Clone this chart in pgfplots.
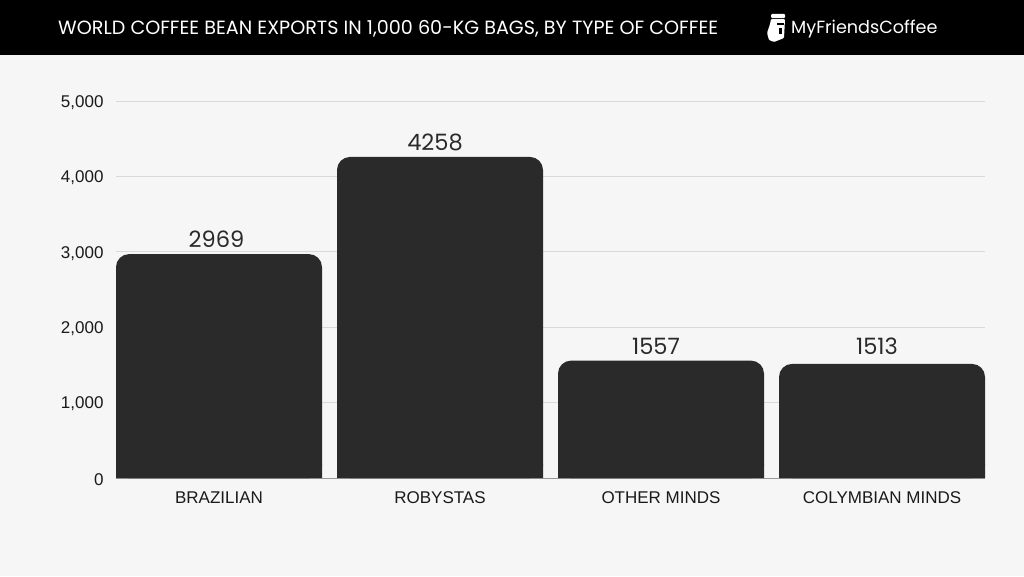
\documentclass[border=0pt]{standalone}
\usepackage{pgfplots}
\pgfplotsset{compat=1.18}
\usepackage{fontspec}
\setmainfont{Liberation Sans}
\newfontfamily\headfont{Poppins}
\definecolor{bgc}{HTML}{F6F6F6}
\definecolor{barc}{HTML}{2A2A2A}
\definecolor{gridc}{HTML}{D9D9D9}
\definecolor{txtc}{HTML}{1A1A1A}
\begin{document}
\begin{tikzpicture}[x=1pt,y=1pt]
\useasboundingbox (0,0) rectangle (1024,576);
\fill[bgc] (0,0) rectangle (1024,576);
\fill[black] (0,521) rectangle (1024,576);
\node[anchor=west,text=white,inner sep=0pt] at (58,547.5) {\headfont\fontsize{19.15}{22}\selectfont WORLD COFFEE BEAN EXPORTS IN 1,000 60-KG BAGS, BY TYPE OF COFFEE};
\node[anchor=west,text=white,inner sep=0pt] at (791,547) {\headfont\fontsize{17.6}{21}\selectfont MyFriendsCoffee};
% logo
\fill[white,rounded corners=1pt] (771,562) -- (785,562) -- (785,558) -- (771,558) -- cycle;
\fill[white,rounded corners=1pt] (771,557) -- (785,557) -- (784,538) -- (774,534) -- (769,536) -- (767,543) -- (770,552) -- cycle;
\fill[black] (777,551) rectangle (784,553);
\fill[black] (779,542) rectangle (782,548);
\begin{axis}[
  at={(116pt,98pt)},anchor=south west,
  scale only axis,width=869pt,height=377pt,
  xmin=-0.46606,xmax=3.46606,ymin=0,ymax=5000,
  axis y line*=left,axis x line*=bottom,
  y axis line style={draw=none},
  x axis line style={draw=gridc!70!black},
  tick style={draw=none},
  ytick={0,1000,2000,3000,4000,5000},
  yticklabels={0,{1,000},{2,000},{3,000},{4,000},{5,000}},
  xtick={0,1,2,3},
  xticklabels={BRAZILIAN,ROBYSTAS,OTHER MINDS,COLYMBIAN MINDS},
  ymajorgrids,grid style={draw=gridc,line width=0.8pt},
  ticklabel style={font=\fontsize{17}{20}\selectfont,text=txtc},
  /pgf/number format/assume math mode=true,
  yticklabel style={xshift=-9pt,yshift=-1.5pt},
  xticklabel style={yshift=-6pt},
  ybar,bar shift=0pt,bar width=206pt,
  clip=false,
]
\addplot[fill=barc,draw=none,rounded corners=13pt,
  nodes near coords,
  nodes near coords style={font=\headfont\fontsize{22.5}{26}\selectfont,text=barc,inner sep=0pt,yshift=6pt,xshift=-5pt,anchor=south},
  coordinate style/.condition={\coordindex==3}{yshift=3pt},
  coordinate style/.condition={\coordindex==0}{xshift=2.5pt},
  /pgf/number format/.cd,fixed,1000 sep={}]
  coordinates {(0,2969) (1,4258) (2,1557) (3,1513)};
\addplot[fill=barc,draw=none,forget plot] coordinates {(0,180) (1,180) (2,180) (3,180)};
\end{axis}
\end{tikzpicture}
\end{document}
